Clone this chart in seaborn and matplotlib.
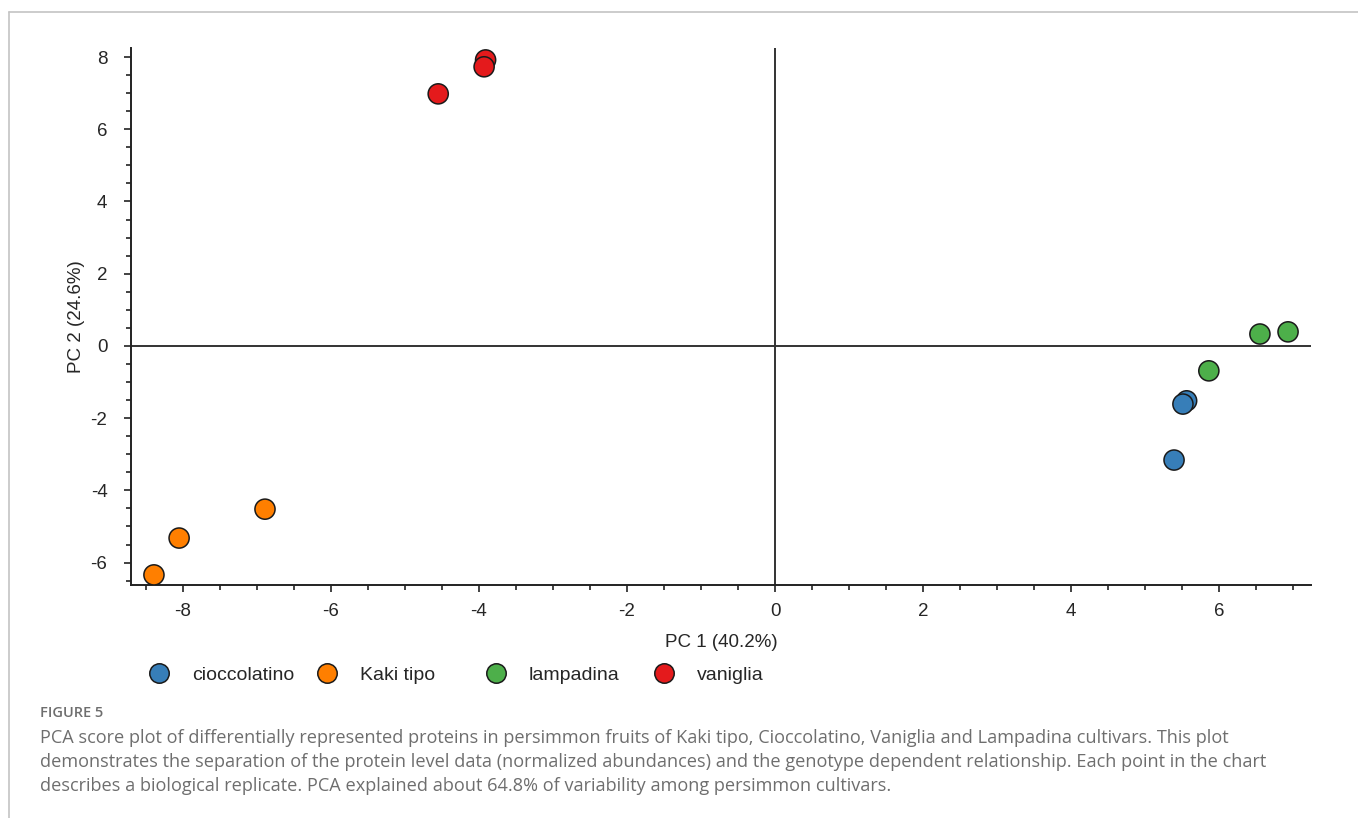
import matplotlib
matplotlib.use("Agg")
import matplotlib.pyplot as plt
from matplotlib.lines import Line2D
from matplotlib.ticker import MultipleLocator
import seaborn as sns
import pandas as pd

# PCA scores per biological replicate
cultivars = ["cioccolatino", "Kaki tipo", "lampadina", "vaniglia"]
colors = ["#377EB8", "#FF7F00", "#4DAF4A", "#E41A1C"]

cioccolatino_pc1 = [5.39, 5.56, 5.51]
cioccolatino_pc2 = [-3.16, -1.52, -1.61]
kaki_pc1 = [-8.39, -8.05, -6.89]
kaki_pc2 = [-6.34, -5.32, -4.52]
lampadina_pc1 = [5.86, 6.55, 6.93]
lampadina_pc2 = [-0.69, 0.33, 0.39]
vaniglia_pc1 = [-4.55, -3.91, -3.93]
vaniglia_pc2 = [6.98, 7.92, 7.73]

x_label = "PC 1 (40.2%)"
y_label = "PC 2 (24.6%)"
x_ticks = [-8, -6, -4, -2, 0, 2, 4, 6]
y_ticks = [-6, -4, -2, 0, 2, 4, 6, 8]

caption_head = "FIGURE 5"
caption_lines = [
    "PCA score plot of differentially represented proteins in persimmon fruits of Kaki tipo, Cioccolatino, Vaniglia and Lampadina cultivars. This plot",
    "demonstrates the separation of the protein level data (normalized abundances) and the genotype dependent relationship. Each point in the chart",
    "describes a biological replicate. PCA explained about 64.8% of variability among persimmon cultivars.",
]

df = pd.DataFrame({
    "PC1": cioccolatino_pc1 + kaki_pc1 + lampadina_pc1 + vaniglia_pc1,
    "PC2": cioccolatino_pc2 + kaki_pc2 + lampadina_pc2 + vaniglia_pc2,
    "cultivar": (["cioccolatino"] * 3 + ["Kaki tipo"] * 3
                 + ["lampadina"] * 3 + ["vaniglia"] * 3),
})

sns.set_style("white")
plt.rcParams["font.family"] = ["Liberation Sans", "DejaVu Sans"]
plt.rcParams["axes.unicode_minus"] = False

fig = plt.figure(figsize=(13.58, 8.18), dpi=100)
ax = fig.add_axes([131 / 1358, 1 - 585 / 818, (1311 - 131) / 1358, (585 - 48) / 818])

ax.axhline(0, color="#333333", lw=1.4, zorder=1)
ax.axvline(0, color="#333333", lw=1.4, zorder=1)

sns.scatterplot(data=df, x="PC1", y="PC2", hue="cultivar", hue_order=cultivars,
                palette=colors, s=210, edgecolor="#1a1a1a", linewidth=1.1,
                legend=False, ax=ax, zorder=3)

ax.set_xlim(-8.70, 7.24)
ax.set_ylim(-6.62, 8.25)
ax.set_xticks(x_ticks)
ax.set_yticks(y_ticks)
ax.xaxis.set_minor_locator(MultipleLocator(0.5))
ax.yaxis.set_minor_locator(MultipleLocator(0.5))
ax.tick_params(which="major", direction="out", length=5, width=1.2, color="#222222",
               labelsize=13.5, bottom=True, left=True)
ax.tick_params(axis="x", which="major", pad=8)
ax.tick_params(axis="y", which="major", pad=12)
ax.tick_params(which="minor", direction="out", length=3.5, width=1.2, color="#222222",
               bottom=True, left=True)
for s in ["top", "right"]:
    ax.spines[s].set_visible(False)
for s in ["left", "bottom"]:
    ax.spines[s].set_color("#222222")
    ax.spines[s].set_linewidth(1.4)

ax.set_xlabel(x_label, fontsize=13.5, labelpad=10)
ax.set_ylabel(y_label, fontsize=13.5, labelpad=4)

# Legend entries laid out in equal-width slots below the axis
legend_x = [147, 315, 484, 652]
for name, col, lx in zip(cultivars, colors, legend_x):
    h = Line2D([], [], marker="o", linestyle="", markersize=14,
               markerfacecolor=col, markeredgecolor="#1a1a1a", markeredgewidth=1.1)
    leg = fig.legend([h], [name], loc="center left",
                     bbox_to_anchor=(lx / 1358, 1 - 675 / 818),
                     frameon=False, fontsize=14, handletextpad=1.1,
                     borderpad=0, borderaxespad=0, handlelength=1.2)

# Caption
fig.text(40 / 1358, 1 - 713 / 818, caption_head, fontsize=10.5, color="#6e6e6e",
         family=["Open Sans", "DejaVu Sans"], weight="semibold", va="center")
for i, line in enumerate(caption_lines):
    fig.text(40 / 1358, 1 - (738 + 24 * i) / 818, line, fontsize=13.1, color="#6e6e6e",
             family=["Open Sans", "DejaVu Sans"], va="center")

# Page frame
fig.add_artist(Line2D([9 / 1358, 1], [1 - 12 / 818, 1 - 12 / 818],
                      transform=fig.transFigure, color="#c4c4c4", lw=1.2))
fig.add_artist(Line2D([9 / 1358, 9 / 1358], [1 - 12 / 818, 0],
                      transform=fig.transFigure, color="#c4c4c4", lw=1.2))

fig.savefig("out.png", dpi=100)
